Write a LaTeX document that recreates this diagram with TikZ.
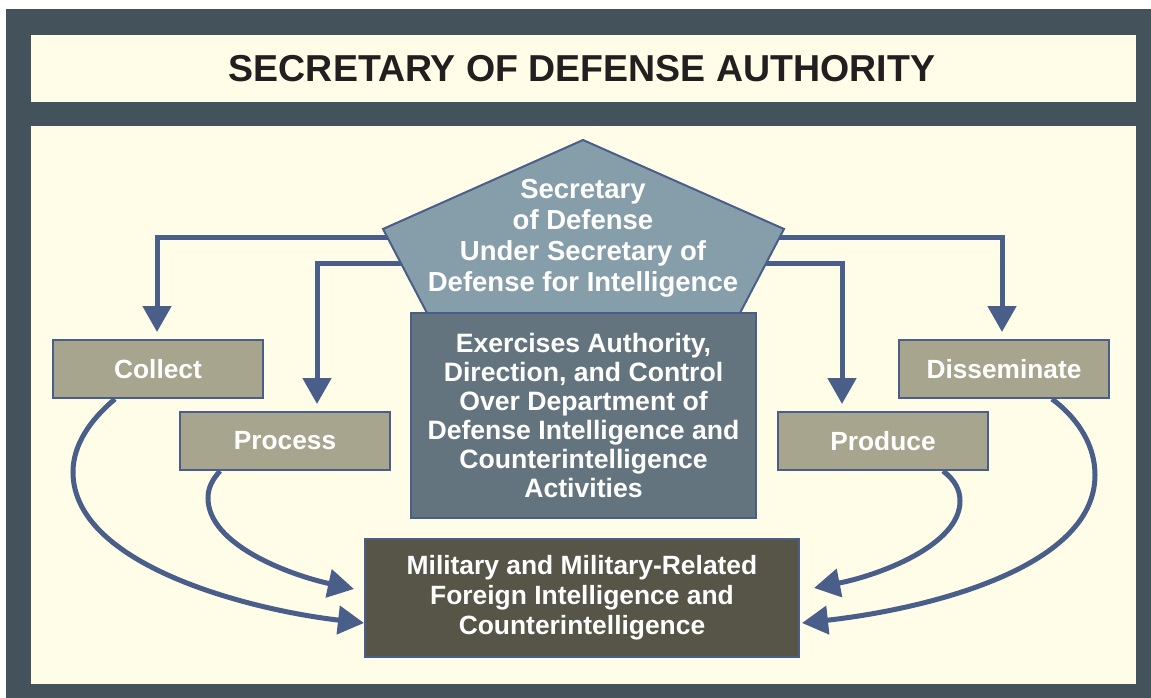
\documentclass[tikz,border=0pt]{standalone}
\usepackage{fontspec}
\setmainfont{Liberation Sans}
\usetikzlibrary{arrows.meta,calc}
\definecolor{framec}{HTML}{44525C}
\definecolor{cream}{HTML}{FFFDE8}
\definecolor{conn}{HTML}{4A5E8A}
\definecolor{pentc}{HTML}{869DAA}
\definecolor{slatec}{HTML}{63747F}
\definecolor{tanc}{HTML}{A8A58E}
\definecolor{olivec}{HTML}{575548}
\definecolor{titletext}{HTML}{231F20}
\begin{document}
\begin{tikzpicture}[x=1pt,y=-1pt,
  box/.style={draw=conn, line width=2pt, text=white, font=\bfseries\fontsize{26.3}{30}\selectfont, align=center, inner sep=0pt},
  stage/.style={box, fill=tanc, minimum width=210pt, minimum height=58pt},
  arr/.style={draw=conn, line width=5pt, -{Triangle[length=26pt,width=28pt]}},
]
\useasboundingbox (0,0) rectangle (1151,698);
\fill[framec] (6,9) rectangle (1151,698);
\fill[cream] (31,35) rectangle (1136,102);
\fill[cream] (31,126) rectangle (1136,684);

\node[font=\bfseries\fontsize{37.5}{40}\selectfont, text=titletext, inner sep=0pt] (title) at (582,68.5) {SECRETARY OF DEFENSE AUTHORITY};

% stage boxes
\node[stage] (collect) at (158,369) {Collect};
\node[stage] (process) at (285,441) {Process};
\node[stage] (produce) at (883,441) {Produce};
\node[stage] (dissem) at (1004,369) {Disseminate};

\node[box, fill=olivec, minimum width=434pt, minimum height=118pt, font=\bfseries\fontsize{26.4}{30}\selectfont] (mil) at (582,598) {Military and Military-Related\\Foreign Intelligence and\\Counterintelligence};

% pentagon corners and connector origins
\coordinate (pApex) at (583,140);
\coordinate (pL) at (383,229);
\coordinate (pR) at (784,229);
\coordinate (pBL) at (427,313);
\coordinate (pBR) at (740,313);
\coordinate (pL1) at (395,237);
\coordinate (pL2) at (410,263);
\coordinate (pR1) at (772,237);
\coordinate (pR2) at (757,263);

\draw[arr] (pL1) -| ($(collect.north)+(-1,-7)$);
\draw[arr] (pL2) -| ($(process.north)+(32,-7)$);
\draw[arr] (pR1) -| ($(dissem.north)+(-2,-7)$);
\draw[arr] (pR2) -| ($(produce.north)+(-41,-7)$);

% curved connectors to the bottom box
\draw[arr] ($(collect.south)+(-43,0)$) .. controls (90,420) and (73,445) .. (73,472)
  .. controls (73,565) and (250,610) .. ($(mil.west)+(0,25)$);
\draw[arr] ($(process.south)+(-65,0)$) .. controls (212,480) and (208,488) .. (208,498)
  .. controls (208,545) and (290,575) .. ($(mil.west)+(-10,-9)$);
\draw[arr] ($(produce.south)+(60,0)$) .. controls (955,480) and (960,490) .. (960,501)
  .. controls (960,545) and (880,575) .. ($(mil.east)+(14,-10)$);
\draw[arr] ($(dissem.south)+(48,0)$) .. controls (1080,420) and (1095,447) .. (1095,475)
  .. controls (1095,570) and (920,610) .. ($(mil.east)+(2,25)$);

% pentagon
\draw[draw=conn, line width=2pt, fill=pentc, line join=miter] (pApex) -- (pR) -- (pBR) -- (pBL) -- (pL) -- cycle;
\node[font=\bfseries\fontsize{27.5}{31}\selectfont, text=white, align=center, inner sep=0pt] (secdef) at (583,238) {Secretary\\of Defense\\Under Secretary of\\Defense for Intelligence};

\node[box, fill=slatec, minimum width=345pt, minimum height=205pt, font=\bfseries\fontsize{26.6}{29}\selectfont] (authority) at (583.5,415.5) {Exercises Authority,\\Direction, and Control\\Over Department of\\Defense Intelligence and\\Counterintelligence\\Activities};
\end{tikzpicture}
\end{document}
